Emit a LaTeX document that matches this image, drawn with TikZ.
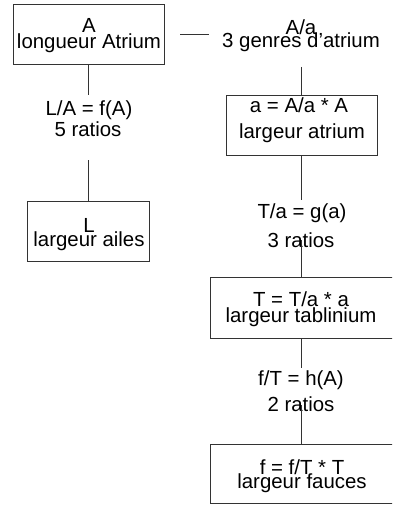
\documentclass[tikz,border=0pt]{standalone}
\usepackage{fontspec}
\setmainfont{Liberation Sans}
\begin{document}
\begin{tikzpicture}[x=1pt,y=-1pt,
  box/.style={draw=black!80,line width=0.8pt,rectangle,inner sep=0pt},
  txt/.style={inner sep=0pt,anchor=base,text=black,font=\fontsize{20.4pt}{24pt}\selectfont},
  wire/.style={draw=black!80,line width=0.8pt}]
\useasboundingbox (0,0) rectangle (392,505);
\clip (0,0) rectangle (392,505);

% boxes
\node[box,minimum width=151pt,minimum height=60pt] (bA) at (88.5,34) {};
\node[box,minimum width=151pt,minimum height=60pt] (ba) at (301.5,125) {};
\node[box,minimum width=122pt,minimum height=60pt] (bL) at (88,231) {};
\node[box,minimum width=190pt,minimum height=61pt] (bT) at (305,307.5) {};
\node[box,minimum width=190pt,minimum height=59pt] (bf) at (305,474) {};

% box texts
\node[txt] (tA1) at (89,33) {A};
\node[txt] (tA2) at (89,49) {longueur Atrium};
\node[txt] (ta1) at (299,112.5) {a = A/a * A};
\node[txt] (ta2) at (302,139) {largeur atrium};
\node[txt] (tL1) at (89,232) {L};
\node[txt] (tL2) at (89,246) {largeur ailes};
\node[txt] (tT1) at (301,306) {T = T/a * a};
\node[txt] (tT2) at (301,322) {largeur tablinium};
\node[txt] (tf1) at (302,474) {f = f/T * T};
\node[txt] (tf2) at (302,488) {largeur fauces};

% relation labels
\node[txt] (g1) at (301,35) {A/a};
\node[txt] (g2) at (301,48) {3 genres d'atrium};
\node[txt] (r1) at (89,116) {L/A = f(A)};
\node[txt] (r2) at (88,137) {5 ratios};
\node[txt] (s1) at (302,218) {T/a = g(a)};
\node[txt] (s2) at (301,247) {3 ratios};
\node[txt] (u1) at (301,385) {f/T = h(A)};
\node[txt] (u2) at (301,411.5) {2 ratios};

% connector ends
\coordinate (h2) at (209,34);
\coordinate (l1) at (88.5,95);
\coordinate (l2) at (88,160);
\coordinate (m1) at (301.5,67);
\coordinate (m2) at (301.5,200);
\coordinate (m3) at (301.5,240);
\coordinate (m4) at (301.5,368);
\coordinate (m5) at (301.5,405);

% connectors
\draw[wire,shorten <=16pt] (bA.east) -- (h2);
\draw[wire] (bA.south) -- (l1);
\draw[wire] (l2) -- (l2 |- bL.north);
\draw[wire] (m1) -- (ba.north);
\draw[wire] (ba.south) -- (m2);
\draw[wire] (m3) -- (m3 |- bT.north);
\draw[wire] (m4 |- bT.south) -- (m4);
\draw[wire] (m5) -- (m5 |- bf.north);
\end{tikzpicture}
\end{document}
